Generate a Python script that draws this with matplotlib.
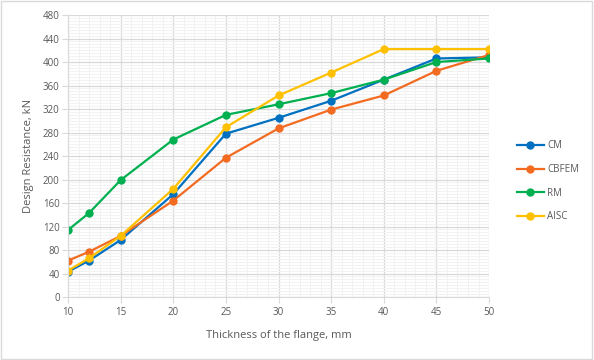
import matplotlib
matplotlib.use("Agg")
import matplotlib.pyplot as plt
from matplotlib.ticker import MultipleLocator
from matplotlib.patches import Rectangle

thickness = [10, 12, 15, 20, 25, 30, 35, 40, 45, 50]
cm = [43, 62, 97, 175, 278, 305, 334, 370, 406, 408]
cbfem = [62, 77, 104, 164, 237, 287, 319, 343, 385, 412]
rm = [114, 143, 199, 268, 310, 328, 347, 370, 400, 406]
aisc = [45, 66, 104, 184, 289, 343, 382, 422, 422, 422]

series = [
    ("CM", cm, "#0070c0"),
    ("CBFEM", cbfem, "#f26b21"),
    ("RM", rm, "#00b050"),
    ("AISC", aisc, "#ffc000"),
]

plt.rcParams["font.family"] = ["Open Sans", "DejaVu Sans"]
text_gray = "#595959"

fig = plt.figure(figsize=(5.94, 3.60), dpi=100)
fig.patches.append(Rectangle((0.002, 0.003), 0.995, 0.994, transform=fig.transFigure,
                             fill=False, edgecolor="#d9d9d9", linewidth=1))
ax = fig.add_axes([0.1145, 0.175, 0.7088, 0.7833])

for name, vals, col in series:
    ax.plot(thickness, vals, color=col, linewidth=1.6, marker="o", markersize=5, label=name)

ax.set_xlim(10, 50)
ax.set_ylim(0, 480)
ax.xaxis.set_major_locator(MultipleLocator(5))
ax.xaxis.set_minor_locator(MultipleLocator(1))
ax.yaxis.set_major_locator(MultipleLocator(40))
ax.yaxis.set_minor_locator(MultipleLocator(5))
ax.grid(which="major", color="#d9d9d9", linewidth=0.9)
ax.grid(which="minor", color="#f2f2f2", linewidth=0.7)
ax.set_axisbelow(True)

for s in ["top", "right"]:
    ax.spines[s].set_visible(False)
ax.spines["left"].set_color("#d9d9d9")
ax.spines["bottom"].set_color("#d9d9d9")
ax.tick_params(axis="both", which="minor", length=0)
ax.tick_params(axis="x", which="major", length=4, color="#d9d9d9", labelsize=7, labelcolor=text_gray, pad=3)
ax.tick_params(axis="y", which="major", length=4, color="#d9d9d9", labelsize=7, labelcolor=text_gray, pad=2)

ax.set_xlabel("Thickness of the flange, mm", fontsize=8, color=text_gray, labelpad=9)
ax.set_ylabel("Design Resistance, kN", fontsize=8, color=text_gray, labelpad=6)

leg = ax.legend(loc="center left", bbox_to_anchor=(1.045, 0.41), frameon=False,
                fontsize=7, handlelength=2.8, labelspacing=1.3, handletextpad=0.3)
for t in leg.get_texts():
    t.set_color(text_gray)

fig.savefig("out.png", dpi=100)
